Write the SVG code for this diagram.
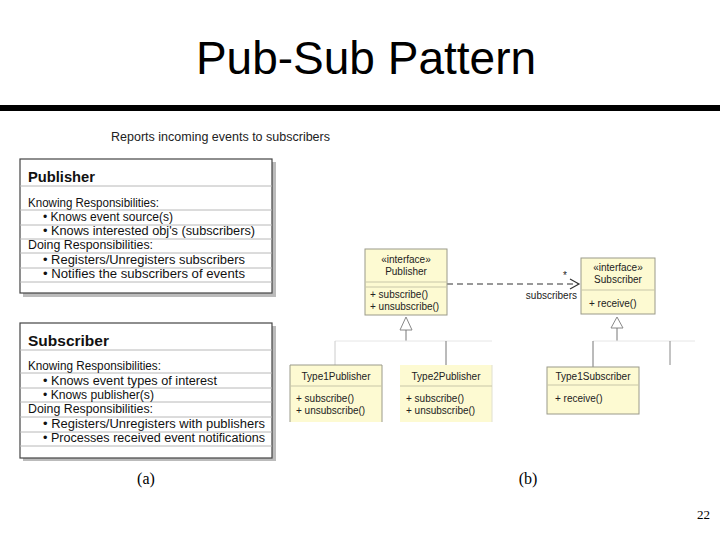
<svg xmlns="http://www.w3.org/2000/svg" width="720" height="540" viewBox="0 0 720 540">
<style>
.title{font-family:"Liberation Sans",Arial,sans-serif;font-size:46px;fill:#000}
.note{font-family:"Liberation Sans",Arial,sans-serif;font-size:12px;fill:#222}
.card{fill:#fff;stroke:#444;stroke-width:1.2}
.shadow{fill:#bbb}
.rule{stroke:#b8b8b8;stroke-width:1}
.ctitle{font-family:"Liberation Sans",Arial,sans-serif;font-size:15px;font-weight:bold;fill:#111}
.ctext{font-family:"Liberation Sans",Arial,sans-serif;font-size:12px;fill:#111}
.uml{fill:#fdfad2;stroke:#9a9a8a;stroke-width:1}
.ucomp{stroke:#c8c6a8;stroke-width:1}
.utext{font-family:"Liberation Sans",Arial,sans-serif;font-size:10px;fill:#222}
.cap{font-family:"Liberation Serif","Times New Roman",serif;font-size:16px;fill:#000}
.pg{font-family:"Liberation Serif","Times New Roman",serif;font-size:13px;fill:#000}
</style>
<rect width="720" height="540" fill="#fff"/>
<text class="title" x="366" y="74" text-anchor="middle">Pub-Sub Pattern</text>
<rect x="0" y="105" width="720" height="6" fill="#000"/>
<text class="note" x="111" y="141" textLength="219" lengthAdjust="spacingAndGlyphs">Reports incoming events to subscribers</text>

<g id="crc-publisher">
<rect class="shadow" x="23" y="162" width="253" height="135"/>
<rect class="card" x="20" y="159" width="252" height="134"/>
<line class="rule" x1="20" y1="186" x2="272" y2="186"/>
<line class="rule" x1="20" y1="210" x2="272" y2="210"/>
<line class="rule" x1="20" y1="225" x2="272" y2="225"/>
<line class="rule" x1="20" y1="239" x2="272" y2="239"/>
<line class="rule" x1="20" y1="253" x2="272" y2="253"/>
<line class="rule" x1="20" y1="268" x2="272" y2="268"/>
<line class="rule" x1="20" y1="282" x2="272" y2="282"/>
<text class="ctitle" x="28" y="182" textLength="67" lengthAdjust="spacingAndGlyphs">Publisher</text>
<text class="ctext" x="28" y="207" textLength="131" lengthAdjust="spacingAndGlyphs">Knowing Responsibilities:</text>
<text class="ctext" x="43" y="221" textLength="130" lengthAdjust="spacingAndGlyphs">• Knows event source(s)</text>
<text class="ctext" x="43" y="235" textLength="212" lengthAdjust="spacingAndGlyphs">• Knows interested obj's (subscribers)</text>
<text class="ctext" x="28" y="249" textLength="125" lengthAdjust="spacingAndGlyphs">Doing Responsibilities:</text>
<text class="ctext" x="43" y="264" textLength="202" lengthAdjust="spacingAndGlyphs">• Registers/Unregisters subscribers</text>
<text class="ctext" x="43" y="278" textLength="202" lengthAdjust="spacingAndGlyphs">• Notifies the subscribers of events</text>
</g>

<g id="crc-subscriber">
<rect class="shadow" x="23" y="326" width="253" height="135"/>
<rect class="card" x="20" y="323" width="252" height="135"/>
<line class="rule" x1="20" y1="350" x2="272" y2="350"/>
<line class="rule" x1="20" y1="373" x2="272" y2="373"/>
<line class="rule" x1="20" y1="388" x2="272" y2="388"/>
<line class="rule" x1="20" y1="402" x2="272" y2="402"/>
<line class="rule" x1="20" y1="417" x2="272" y2="417"/>
<line class="rule" x1="20" y1="432" x2="272" y2="432"/>
<line class="rule" x1="20" y1="446" x2="272" y2="446"/>
<text class="ctitle" x="28" y="346" textLength="81" lengthAdjust="spacingAndGlyphs">Subscriber</text>
<text class="ctext" x="28" y="370" textLength="133" lengthAdjust="spacingAndGlyphs">Knowing Responsibilities:</text>
<text class="ctext" x="43" y="385" textLength="174" lengthAdjust="spacingAndGlyphs">• Knows event types of interest</text>
<text class="ctext" x="43" y="399" textLength="111" lengthAdjust="spacingAndGlyphs">• Knows publisher(s)</text>
<text class="ctext" x="28" y="413" textLength="125" lengthAdjust="spacingAndGlyphs">Doing Responsibilities:</text>
<text class="ctext" x="43" y="428" textLength="222" lengthAdjust="spacingAndGlyphs">• Registers/Unregisters with publishers</text>
<text class="ctext" x="43" y="442" textLength="222" lengthAdjust="spacingAndGlyphs">• Processes received event notifications</text>
</g>

<g id="connectors" fill="none">
<line x1="447" y1="284" x2="578" y2="284" stroke="#333" stroke-width="1.2" stroke-dasharray="6,4"/>
<polyline points="570,279 579,284 570,289" stroke="#333" stroke-width="1.2"/>
<polygon points="406,317 400,330 412,330" fill="#fff" stroke="#888" stroke-width="1"/>
<line x1="406" y1="330" x2="406" y2="341" stroke="#777"/>
<line x1="335" y1="341" x2="492" y2="341" stroke="#e6e6e6"/>
<line x1="335" y1="341" x2="335" y2="365" stroke="#ccc"/>
<line x1="446" y1="341" x2="446" y2="365" stroke="#777"/>
<polygon points="617,317 611,328 623,328" fill="#fff" stroke="#888" stroke-width="1"/>
<line x1="617" y1="328" x2="617" y2="341" stroke="#777"/>
<line x1="593" y1="341" x2="695" y2="341" stroke="#e6e6e6"/>
<line x1="593" y1="341" x2="593" y2="367" stroke="#777"/>
<line x1="670" y1="341" x2="670" y2="365" stroke="#888"/>
</g>
<text class="utext" x="563" y="279">*</text>
<text class="utext" x="577" y="299" text-anchor="end">subscribers</text>

<g id="if-publisher">
<rect class="uml" x="365" y="249" width="82" height="66"/>
<line class="ucomp" x1="365" y1="282" x2="447" y2="282"/>
<line class="ucomp" x1="365" y1="287" x2="447" y2="287"/>
<text class="utext" x="406" y="263" text-anchor="middle">«interface»</text>
<text class="utext" x="406" y="275" text-anchor="middle">Publisher</text>
<text class="utext" x="370" y="298">+  subscribe()</text>
<text class="utext" x="370" y="310">+  unsubscribe()</text>
</g>

<g id="if-subscriber">
<rect class="uml" x="581" y="258" width="74" height="56"/>
<line class="ucomp" x1="581" y1="290" x2="655" y2="290"/>
<text class="utext" x="618" y="271" text-anchor="middle">«interface»</text>
<text class="utext" x="618" y="283" text-anchor="middle">Subscriber</text>
<text class="utext" x="589" y="307">+  receive()</text>
</g>

<g id="type1publisher">
<rect x="290" y="365" width="92" height="57" fill="#fdfad2"/>
<polyline points="290,422 290,365 382,365 382,422" fill="none" stroke="#9a9a8a"/>
<line class="ucomp" x1="290" y1="386" x2="382" y2="386"/>
<text class="utext" x="336" y="380" text-anchor="middle">Type1Publisher</text>
<text class="utext" x="296" y="402">+  subscribe()</text>
<text class="utext" x="296" y="414">+  unsubscribe()</text>
</g>

<g id="type2publisher">
<rect x="400" y="365" width="92" height="57" fill="#fdfad2"/>
<polyline points="492,365 492,422" fill="none" stroke="#e0e0d0"/>
<line class="ucomp" x1="400" y1="386" x2="492" y2="386"/>
<text class="utext" x="446" y="380" text-anchor="middle">Type2Publisher</text>
<text class="utext" x="406" y="402">+  subscribe()</text>
<text class="utext" x="406" y="414">+  unsubscribe()</text>
</g>

<g id="type1subscriber">
<rect class="uml" x="547" y="367" width="92" height="47"/>
<line class="ucomp" x1="547" y1="385" x2="639" y2="385"/>
<text class="utext" x="593" y="380" text-anchor="middle">Type1Subscriber</text>
<text class="utext" x="555" y="402">+  receive()</text>
</g>

<text class="cap" x="146" y="484" text-anchor="middle">(a)</text>
<text class="cap" x="528" y="484" text-anchor="middle">(b)</text>
<text class="pg" x="710" y="519" text-anchor="end">22</text>
</svg>
